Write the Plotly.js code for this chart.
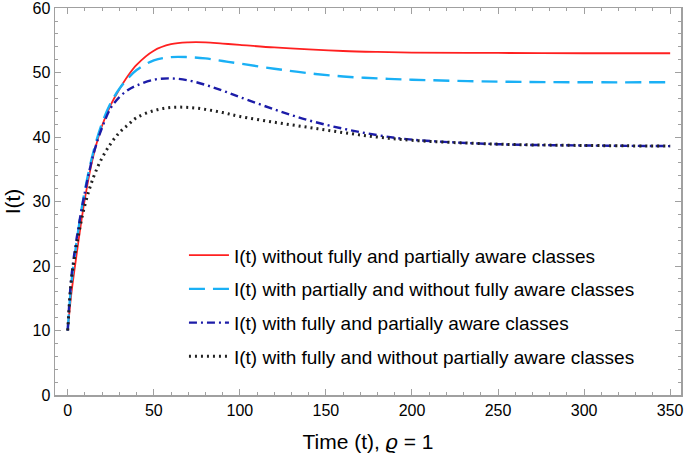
<!DOCTYPE html>
<html>
<head>
<meta charset="utf-8">
<script src="https://cdn.plot.ly/plotly-3.0.1.min.js"></script>
<style>
  html, body { margin: 0; padding: 0; background: #fff; }
  #chart { width: 685px; height: 453px; }
</style>
</head>
<body>
<div id="chart"></div>
<script>
// Time points (t)
const timeT = [0, 2, 5, 10, 15, 20, 25, 30, 35, 40, 50, 60, 70, 80, 90, 100, 120, 140, 160, 180, 200, 250, 300, 350];

// I(t) without fully and partially aware classes
const iNone = [10, 15.5, 21.5, 30.5, 37.2, 41.8, 45, 47.4, 49.5, 51.2, 53.4, 54.4, 54.7, 54.7, 54.5, 54.3, 53.9, 53.6, 53.35, 53.2, 53.1, 53.05, 53.0, 53.0];
// I(t) with partially and without fully aware classes
const iPartial = [10, 17, 23.5, 31.8, 37.8, 42.2, 45.3, 47.5, 49.1, 50.4, 51.9, 52.4, 52.4, 52.2, 51.8, 51.4, 50.6, 49.9, 49.4, 49.1, 48.9, 48.6, 48.5, 48.5];
// I(t) with fully and partially aware classes
const iBoth = [10, 18, 24, 31.5, 37.4, 41.5, 44.5, 46.2, 47.3, 48.0, 48.9, 49.1, 48.8, 48.1, 47.2, 46.2, 44.3, 42.6, 41.3, 40.3, 39.6, 38.9, 38.7, 38.6];
// I(t) with fully and without partially aware classes
const iFully = [10, 17.5, 23, 29.5, 33.8, 36.8, 39, 40.7, 41.9, 43.0, 44.1, 44.6, 44.6, 44.3, 43.8, 43.2, 42.3, 41.5, 40.7, 40.0, 39.5, 38.9, 38.7, 38.6];

const seriesNames = [
  "I(t) without fully and partially aware classes",
  "I(t) with partially and without fully aware classes",
  "I(t) with fully and partially aware classes",
  "I(t) with fully and without partially aware classes"
];

const FONT = "'Liberation Sans', Arial, sans-serif";

function mk(y, name, color, width, dash, grp) {
  return {
    x: timeT, y: y, name: name, type: 'scatter', mode: 'lines',
    line: { color: color, width: width, dash: dash, shape: 'spline', smoothing: 1 },
    legendgroup: grp
  };
}

const traces = [
  mk(iNone, seriesNames[0], '#ff2020', 1.8, 'solid', 'a'),
  mk(iPartial, seriesNames[1], '#1ab0f5', 2.4, '16px,8px', 'b'),
  mk(iBoth, seriesNames[2], '#1c1ca8', 2.4, '8px,4px,2px,4px', 'c'),
  mk(iFully, seriesNames[3], '#222222', 3, '2px,4px', 'd')
];

const axisCommon = {
  showgrid: false, zeroline: false,
  showline: true, linecolor: '#a0a0a0', linewidth: 1.5, mirror: 'allticks',
  ticks: 'inside', ticklen: 6, tickwidth: 1, tickcolor: '#a0a0a0',
  ticklabeloverflow: 'allow',
  tickfont: { family: FONT, size: 16, color: '#000' }
};

const layout = {
  width: 685, height: 453,
  margin: { l: 55, r: 3.5, t: 7.5, b: 57.5 },
  paper_bgcolor: '#fff', plot_bgcolor: '#fff',
  font: { family: FONT, color: '#000' },
  showlegend: true,
  legend: {
    x: 0.206, y: 0.41, xanchor: 'left', yanchor: 'top',
    bgcolor: 'rgba(0,0,0,0)', borderwidth: 0,
    font: { family: FONT, size: 19, color: '#000' },
    traceorder: 'grouped', tracegroupgap: 6, itemwidth: 40
  },
  xaxis: Object.assign({}, axisCommon, {
    range: [-7.4, 356.3], tickvals: [0, 50, 100, 150, 200, 250, 300, 350],
    minor: { dtick: 10, ticks: 'inside', ticklen: 3, tickcolor: '#a0a0a0' },
    title: { text: 'Time (t), <i>ϱ</i> = 1', font: { family: FONT, size: 21, color: '#000' }, standoff: 18 }
  }),
  yaxis: Object.assign({}, axisCommon, {
    range: [0, 60.02], tickvals: [0, 10, 20, 30, 40, 50, 60],
    minor: { dtick: 2, ticks: 'inside', ticklen: 3, tickcolor: '#a0a0a0' },
    title: { text: 'I(t)', font: { family: FONT, size: 21, color: '#000' }, standoff: 6 }
  })
};

Plotly.newPlot('chart', traces, layout, { displayModeBar: false, staticPlot: true });
</script>
</body>
</html>
